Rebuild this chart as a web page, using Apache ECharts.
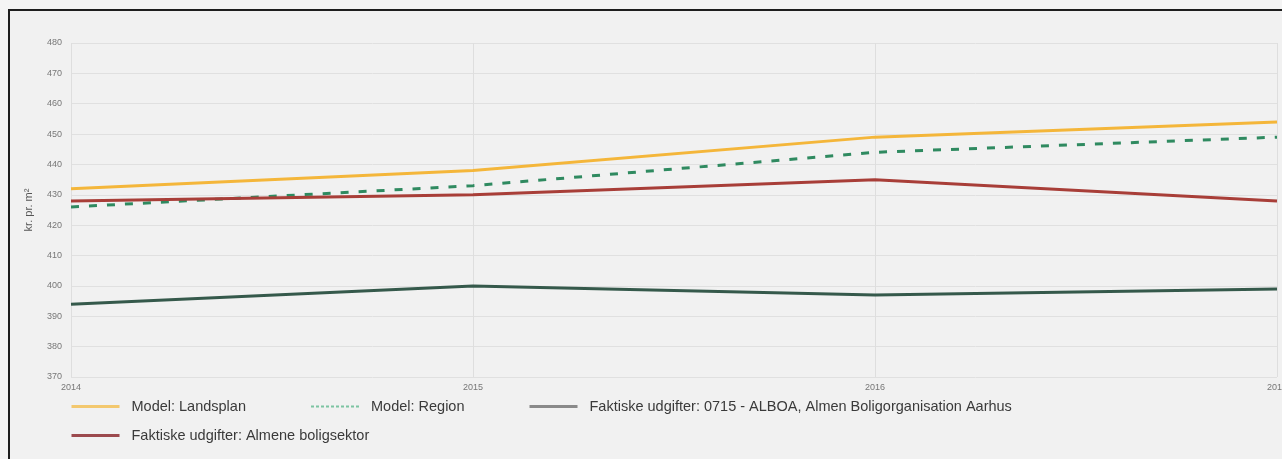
<!DOCTYPE html>
<html>
<head>
<meta charset="utf-8">
<script src="https://cdn.jsdelivr.net/npm/echarts@6/dist/echarts.min.js"></script>
<style>
  html, body { margin: 0; padding: 0; background: #f4f4f4; }
  #wrap { position: relative; width: 1282px; height: 459px; overflow: hidden; }
  #frame { position: absolute; left: 8px; top: 9px; width: 1300px; height: 480px;
           border-left: 2px solid #1e1e1e; border-top: 2px solid #1e1e1e; background: #f1f1f1; }
  #chart { position: absolute; left: 0; top: 0; width: 1282px; height: 459px; }
</style>
</head>
<body>
<div id="wrap">
  <div id="frame"></div>
  <div id="chart"></div>
</div>
<script>
// Years on the x axis
const years = ['2014', '2015', '2016', '2017'];

// Expenses, kr. per m²
const landsplan = [432, 438, 449, 454];
const region = [426, 433, 444, 449];
const alboa = [394, 400, 397, 399];
const almene = [428, 430, 435, 428];

const names = [
  'Model: Landsplan',
  'Model: Region',
  'Faktiske udgifter: 0715 - ALBOA, Almen Boligorganisation Aarhus',
  'Faktiske udgifter: Almene boligsektor'
];

const FONT = 'Liberation Sans, Arial, sans-serif';

const chart = echarts.init(document.getElementById('chart'), null, { renderer: 'canvas' });

const legendText = {
  fontFamily: FONT,
  fontSize: 14.5,
  color: '#3a3a3a',
  padding: [0, 0, 0, 7]
};

function legendAt(name, left, top, lineStyle) {
  return {
    data: [{ name: name, lineStyle: lineStyle, itemStyle: { opacity: 0 } }],
    left: left,
    top: top,
    padding: 0,
    itemWidth: 48,
    itemHeight: 10,
    textStyle: legendText,
    selectedMode: false
  };
}

chart.setOption({
  backgroundColor: 'transparent',
  animation: false,
  textStyle: { fontFamily: FONT },
  grid: { left: 71, top: 43, width: 1206, height: 334, containLabel: false, outerBoundsMode: 'none' },
  legend: [
    legendAt(names[0], 70, 399, { color: '#f3c86e', width: 3 }),
    legendAt(names[1], 310, 399, { color: '#7cc4a2', width: 2, type: [3, 2] }),
    legendAt(names[2], 528, 399, { color: '#8a8a8a', width: 3 }),
    legendAt(names[3], 70, 428, { color: '#9c4a4e', width: 3 })
  ],
  xAxis: {
    type: 'category',
    data: years,
    boundaryGap: false,
    axisLine: { show: false },
    axisTick: { show: false },
    axisLabel: { color: '#777', fontSize: 9, margin: 6, fontFamily: FONT },
    splitLine: { show: true, lineStyle: { color: '#dedede', width: 1 } }
  },
  yAxis: {
    type: 'value',
    min: 370,
    max: 480,
    interval: 10,
    name: 'kr. pr. m²',
    nameLocation: 'middle',
    nameGap: 37,
    nameTextStyle: { color: '#555', fontSize: 11, fontFamily: FONT },
    axisLine: { show: false },
    axisTick: { show: false },
    axisLabel: { color: '#777', fontSize: 9, margin: 9, fontFamily: FONT },
    splitLine: { show: true, lineStyle: { color: '#e0e0e0', width: 1 } }
  },
  series: [
    {
      name: names[0], type: 'line', data: landsplan,
      symbol: 'none', showSymbol: false,
      lineStyle: { color: '#f4b63a', width: 3 }, itemStyle: { color: '#f4b63a' }
    },
    {
      name: names[1], type: 'line', data: region,
      symbol: 'none', showSymbol: false,
      lineStyle: { color: '#2f8a60', width: 3, type: [8, 10] }, itemStyle: { color: '#2f8a60' }
    },
    {
      name: names[2], type: 'line', data: alboa,
      symbol: 'none', showSymbol: false,
      lineStyle: { color: '#35594b', width: 3 }, itemStyle: { color: '#35594b' }
    },
    {
      name: names[3], type: 'line', data: almene,
      symbol: 'none', showSymbol: false,
      lineStyle: { color: '#a83e38', width: 3 }, itemStyle: { color: '#a83e38' }
    }
  ]
});
</script>
</body>
</html>
